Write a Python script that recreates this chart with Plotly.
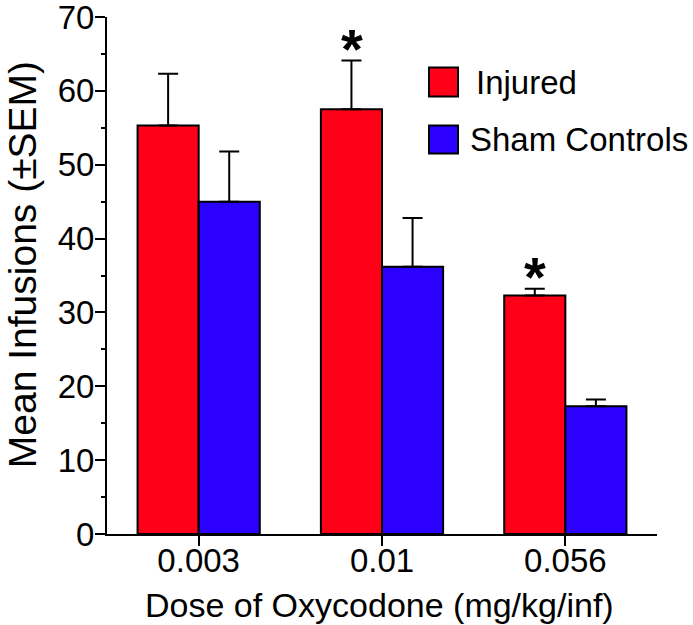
import plotly.graph_objects as go

doses = ["0.003", "0.01", "0.056"]
series_names = ["Injured", "Sham Controls"]
injured_mean = [55.3, 57.5, 32.3]
injured_sem = [7.0, 6.6, 0.9]
sham_mean = [45.0, 36.2, 17.3]
sham_sem = [6.8, 6.6, 0.9]
significant = [False, True, True]  # Injured vs Sham
y_ticks = [0, 10, 20, 30, 40, 50, 60, 70]

RED = "#FF0019"
BLUE = "#2B00FF"
FONT = "Liberation Sans, Arial, Helvetica, sans-serif"

fig = go.Figure()
for name, mean, sem, col in [(series_names[0], injured_mean, injured_sem, RED),
                             (series_names[1], sham_mean, sham_sem, BLUE)]:
    fig.add_trace(go.Bar(
        x=doses, y=mean, name=name,
        marker=dict(color=col, line=dict(color="black", width=2)),
        error_y=dict(type="data", array=sem, arrayminus=[0] * len(sem),
                     symmetric=False, color="black", thickness=2, width=10),
        showlegend=False,
    ))

# significance asterisks above the Injured bars
for i, sig in enumerate(significant):
    if sig:
        fig.add_annotation(x=i, y=injured_mean[i] + injured_sem[i],
                           xref="x", yref="y", text="<b>*</b>", showarrow=False,
                           xshift=-30.5, yanchor="bottom", yshift=-21,
                           font=dict(family=FONT, size=56, color="black"))

# manual legend
legend_rows = [(series_names[0], RED, 0.9023, 0.8462, 6),
               (series_names[1], BLUE, 0.7901, 0.7359, 0)]
for name, col, y1, y0, dx in legend_rows:
    fig.add_shape(type="rect", xref="paper", yref="paper",
                  x0=0.5855, x1=0.6382, y0=y0, y1=y1,
                  fillcolor=col, line=dict(color="black", width=2))
    fig.add_annotation(xref="paper", yref="paper", x=0.656, y=(y0 + y1) / 2,
                       xshift=dx,
                       text=name, showarrow=False, xanchor="left", yanchor="middle",
                       font=dict(family=FONT, size=33, color="black"))

# axis titles
fig.add_annotation(xref="paper", yref="paper", x=0.5, y=0, xshift=-3, yshift=-71,
                   text="Dose of Oxycodone (mg/kg/inf)", showarrow=False,
                   xanchor="center", yanchor="middle",
                   font=dict(family=FONT, size=34, color="black"))
fig.add_annotation(xref="paper", yref="paper", x=0, y=0.52, xshift=-85,
                   text="Mean Infusions (±SEM)", showarrow=False, textangle=-90,
                   xanchor="center", yanchor="middle",
                   font=dict(family=FONT, size=39, color="black"))

fig.update_layout(
    width=693, height=625,
    margin=dict(l=107, r=36, t=17, b=91),
    paper_bgcolor="white", plot_bgcolor="white",
    barmode="group", bargap=1/3, bargroupgap=0,
    font=dict(family=FONT, color="black"),
)
fig.update_xaxes(
    type="category", range=[-0.5, 2.5], automargin=False,
    showline=True, linecolor="black", linewidth=2,
    ticks="outside", ticklen=10, tickwidth=2, tickcolor="black",
    tickfont=dict(size=33, family=FONT, color="black"),
    ticklabelstandoff=-14,
    showgrid=False, zeroline=False,
)
fig.update_yaxes(
    range=[0, 70], tickvals=y_ticks, automargin=False,
    showline=True, linecolor="black", linewidth=2,
    ticks="outside", ticklen=10, tickwidth=2, tickcolor="black",
    minor=dict(dtick=5, ticks="outside", ticklen=4, tickwidth=2, tickcolor="black"),
    tickfont=dict(size=33, family=FONT, color="black"),
    ticklabelstandoff=-6, ticklabeloverflow="allow",
    showgrid=False, zeroline=False,
)

# remove the default 8px page margin so the figure fills the window exactly
fig.write_html("out.html", config={"displayModeBar": False},
               post_script="document.body.style.margin='0';document.body.style.overflow='hidden';")
